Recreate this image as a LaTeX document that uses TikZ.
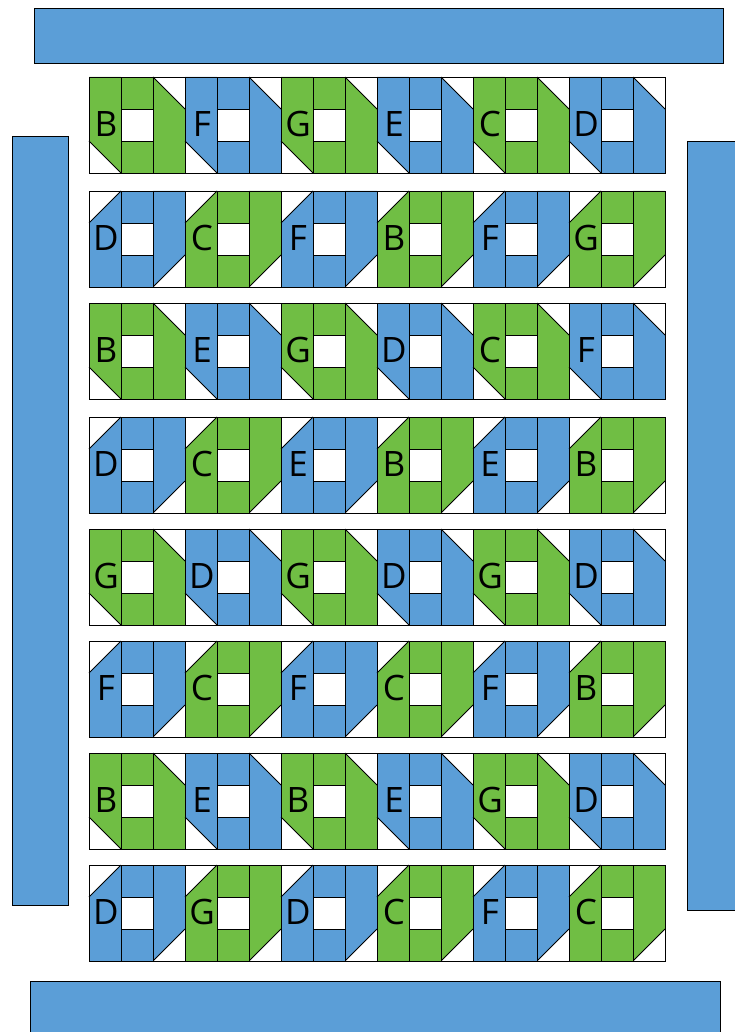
\documentclass[tikz,border=0pt]{standalone}
\usepackage{fontspec}
\setmainfont{Open Sans}
\definecolor{qg}{RGB}{112,190,68}
\definecolor{qb}{RGB}{91,158,215}
\tikzset{
  bar/.style={fill=qb,draw=black,line width=0.9},
  edge/.style={draw=black,line width=0.9},
  lab/.style={font=\fontsize{35}{35}\selectfont, inner sep=0, text=black},
}
\newcommand\qrow[3]{%
  \foreach \L [count=\i] in {#3} {
    \pgfmathsetmacro\xx{89+96*(\i-1)}
    \pgfmathtruncatemacro\c{mod(\i+#2,2)}
    \ifnum\c=1 \def\col{qg}\else\def\col{qb}\fi
    \ifnum#2=0
      \fill[\col] (\xx,#1) -- ++(32,0) -- ++(0,96) -- ++(-32,-32) -- cycle;
      \fill[\col] (\xx+64,#1) -- ++(0,96) -- ++(32,0) -- ++(0,-64) -- cycle;
      \draw[edge] (\xx,#1+64) -- (\xx+32,#1+96);
      \draw[edge] (\xx+64,#1) -- (\xx+96,#1+32);
    \else
      \fill[\col] (\xx,#1+32) -- (\xx+32,#1) -- (\xx+32,#1+96) -- (\xx,#1+96) -- cycle;
      \fill[\col] (\xx+64,#1) -- (\xx+96,#1) -- (\xx+96,#1+64) -- (\xx+64,#1+96) -- cycle;
      \draw[edge] (\xx,#1+32) -- (\xx+32,#1);
      \draw[edge] (\xx+96,#1+64) -- (\xx+64,#1+96);
    \fi
    \fill[\col] (\xx+32,#1) rectangle (\xx+64,#1+96);
    \fill[white] (\xx+32,#1+32) rectangle (\xx+64,#1+64);
    \draw[edge] (\xx,#1) rectangle (\xx+32,#1+96);
    \draw[edge] (\xx+32,#1) rectangle (\xx+64,#1+96);
    \draw[edge] (\xx+64,#1) rectangle (\xx+96,#1+96);
    \draw[edge] (\xx+32,#1+32) rectangle (\xx+64,#1+64);
    \node[lab] (L-#1-\i) at (\xx+17,#1+47) {\L};
  }
  \draw[edge] (89,#1) rectangle (665,#1+96);
}
\begin{document}
\begin{tikzpicture}[x=1pt,y=-1pt]
\useasboundingbox (0,0) rectangle (734,1032);
\draw[bar] (34,8) rectangle (723,63);
\draw[bar] (12,136) rectangle (68,905);
\draw[bar] (687,141) rectangle (740,910);
\draw[bar] (30,981) rectangle (720,1040);
\qrow{77}{0}{B,F,G,E,C,D}
\qrow{191}{1}{D,C,F,B,F,G}
\qrow{303}{0}{B,E,G,D,C,F}
\qrow{417}{1}{D,C,E,B,E,B}
\qrow{529}{0}{G,D,G,D,G,D}
\qrow{641}{1}{F,C,F,C,F,B}
\qrow{753}{0}{B,E,B,E,G,D}
\qrow{865}{1}{D,G,D,C,F,C}
\end{tikzpicture}
\end{document}
